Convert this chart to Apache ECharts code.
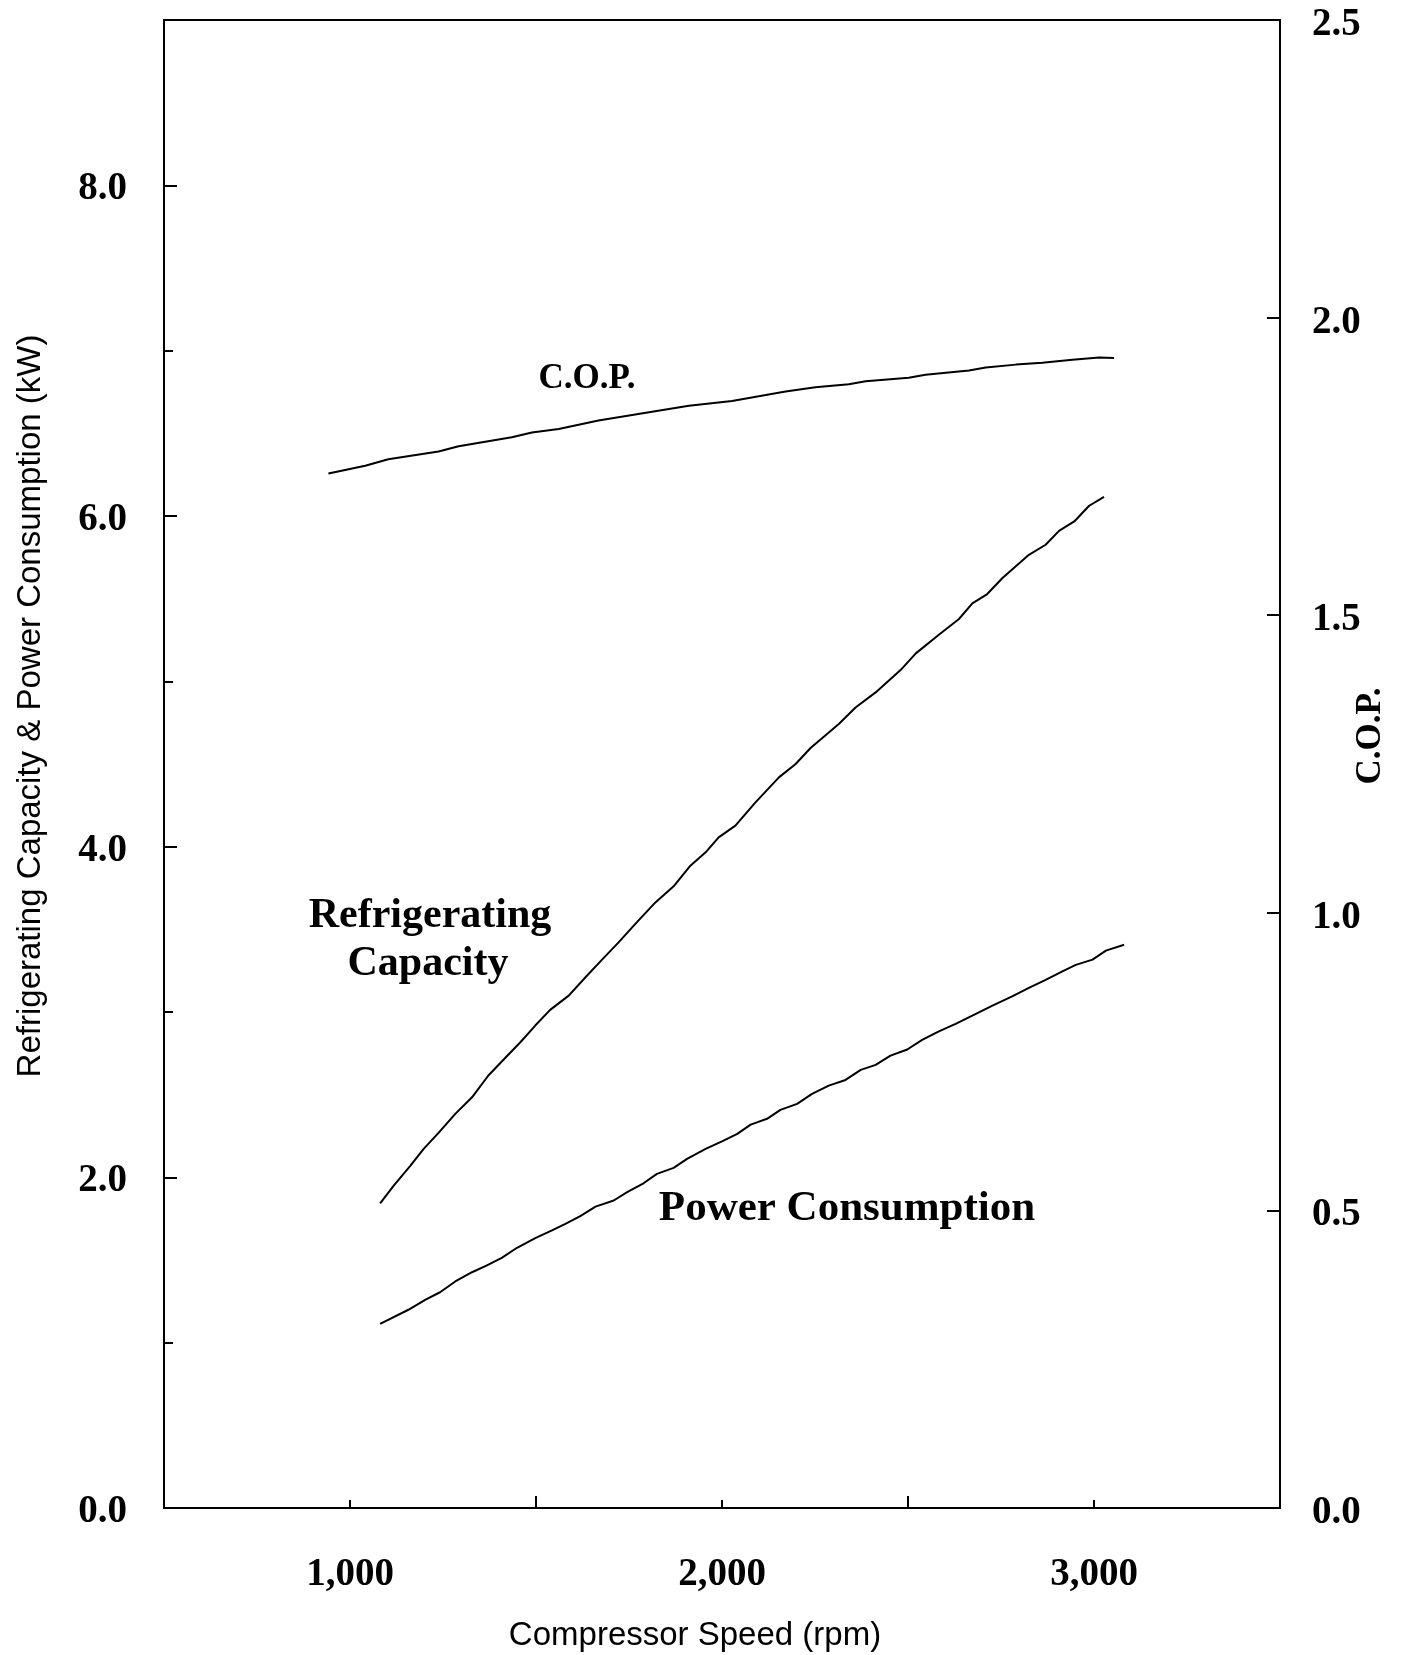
<!DOCTYPE html>
<html><head><meta charset="utf-8">
<script src="https://cdn.jsdelivr.net/npm/echarts@6/dist/echarts.min.js"></script>
<style>html,body{margin:0;padding:0;background:#fff;overflow:hidden}#c{width:1401px;height:1655px}</style>
</head><body><div id="c"></div><script>
// Compressor speed (rpm) and values
const rpmCOP = [942, 1041, 1103, 1238, 1292, 1435, 1489, 1561, 1668, 1812, 1911, 2027, 2171, 2251, 2341, 2386, 2502, 2547, 2664, 2709, 2790, 2861, 2942, 3014, 3054];
const cop = [1.738, 1.751, 1.762, 1.775, 1.784, 1.799, 1.807, 1.813, 1.827, 1.842, 1.852, 1.860, 1.876, 1.883, 1.888, 1.893, 1.899, 1.904, 1.911, 1.916, 1.921, 1.924, 1.929, 1.933, 1.932];

const rpmCap = [1081,1117,1162,1198,1238,1283,1328,1372,1417,1458,1498,1538,1588,1633,1677,1722,1767,1821,1870,1915,1956,1991,2036,2090,2153,2198,2238,2314,2359,2413,2480,2521,2583,2637,2673,2713,2754,2825,2870,2906,2947,2987,3027];
const capacity = [1.843,1.948,2.069,2.172,2.269,2.384,2.484,2.616,2.722,2.817,2.918,3.013,3.099,3.210,3.315,3.421,3.533,3.663,3.760,3.885,3.966,4.056,4.127,4.268,4.419,4.500,4.597,4.742,4.842,4.933,5.068,5.169,5.282,5.377,5.471,5.528,5.625,5.765,5.826,5.910,5.967,6.062,6.116];

const rpmPow = [1081,1157,1202,1242,1283,1328,1368,1408,1449,1498,1543,1579,1619,1660,1709,1745,1789,1825,1870,1906,1956,2000,2041,2077,2121,2157,2202,2242,2287,2332,2373,2413,2453,2498,2538,2583,2628,2673,2727,2780,2825,2870,2915,2951,2996,3032,3081];
const power = [1.114,1.199,1.259,1.305,1.370,1.426,1.467,1.513,1.574,1.632,1.679,1.719,1.765,1.823,1.860,1.910,1.964,2.021,2.057,2.112,2.172,2.218,2.263,2.319,2.354,2.408,2.444,2.505,2.555,2.589,2.650,2.680,2.736,2.773,2.831,2.883,2.928,2.978,3.039,3.095,3.146,3.194,3.246,3.285,3.317,3.371,3.407];

const xLabels = [1000, 2000, 3000];
const leftLabels = [0, 2, 4, 6, 8];
const rightLabels = [0, 0.5, 1.0, 1.5, 2.0, 2.5];

const xName = 'Compressor Speed (rpm)';
const leftName = 'Refrigerating Capacity & Power Consumption (kW)';
const rightName = 'C.O.P.';
const curveLabels = ['C.O.P.', 'Refrigerating', 'Capacity', 'Power Consumption'];

const zip = (a, b) => a.map((v, i) => [v, b[i]]);
const serif = '"Liberation Serif", "Times New Roman", serif';
const sans = '"Liberation Sans", Arial, sans-serif';
const tickFont = { fontFamily: serif, fontWeight: 'bold', fontSize: 39, color: '#000' };

const chart = echarts.init(document.getElementById('c'), null, { renderer: 'canvas', width: 1401, height: 1655 });
chart.setOption({
  animation: false,
  backgroundColor: '#fff',
  grid: { left: 164, right: 121, top: 20, bottom: 147, containLabel: false, outerBoundsMode: 'none', show: true, borderColor: '#000', borderWidth: 2, backgroundColor: 'transparent' },
  xAxis: [
    {
      type: 'value', min: 500, max: 3500, interval: 500, position: 'bottom',
      axisLine: { show: true, onZero: false, lineStyle: { color: '#000', width: 2 } },
      axisTick: { show: true, inside: true, length: 8, lineStyle: { color: '#000', width: 2 } },
      splitLine: { show: false },
      axisLabel: Object.assign({ margin: 47, formatter: v => xLabels.includes(v) ? v.toLocaleString('en-US') : '' }, tickFont),
      name: xName, nameLocation: 'middle', nameGap: 111, nameMoveOverlap: false,
      nameTextStyle: { fontFamily: sans, fontSize: 33, color: '#000', padding: [0, 54, 0, 0] }
    },
    {
      type: 'value', min: 500, max: 3500, interval: 1000, position: 'bottom',
      axisLine: { show: false },
      axisTick: { show: true, inside: true, length: 12, lineStyle: { color: '#000', width: 2 } },
      axisLabel: { show: false }, splitLine: { show: false }
    }
  ],
  yAxis: [
    {
      type: 'value', min: 0, max: 9, interval: 1, position: 'left',
      axisLine: { show: true, onZero: false, lineStyle: { color: '#000', width: 2 } },
      axisTick: { show: true, inside: true, length: 9, lineStyle: { color: '#000', width: 2 } },
      splitLine: { show: false },
      axisLabel: Object.assign({ margin: 37, verticalAlign: 'top', lineHeight: 8, formatter: v => leftLabels.includes(v) ? v.toFixed(1) : '' }, tickFont),
      name: leftName, nameLocation: 'middle', nameGap: 117, nameRotate: 90, nameMoveOverlap: false,
      nameTextStyle: { fontFamily: sans, fontSize: 33, color: '#000', padding: [0, 0, 0, 116] }
    },
    {
      type: 'value', min: 0, max: 2.5, interval: 0.5, position: 'right',
      axisLine: { show: true, onZero: false, lineStyle: { color: '#000', width: 2 } },
      axisTick: { show: true, inside: true, length: 13, lineStyle: { color: '#000', width: 2 } },
      splitLine: { show: false },
      axisLabel: Object.assign({ margin: 32, verticalAlign: 'top', lineHeight: 10, formatter: v => rightLabels.includes(v) ? v.toFixed(1) : '' }, tickFont),
      name: rightName, nameLocation: 'middle', nameGap: 73, nameRotate: 90, nameMoveOverlap: false,
      nameTextStyle: { fontFamily: serif, fontWeight: 'bold', fontSize: 35, color: '#000', padding: [0, 0, 0, 56] }
    },
    {
      type: 'value', min: 0, max: 9, interval: 2, position: 'left',
      axisLine: { show: false },
      axisTick: { show: true, inside: true, length: 13, lineStyle: { color: '#000', width: 2 } },
      axisLabel: { show: false }, splitLine: { show: false }
    }
  ],
  series: [
    { name: 'C.O.P.', type: 'line', yAxisIndex: 1, showSymbol: false, symbol: 'none', lineStyle: { color: '#000', width: 2 }, data: zip(rpmCOP, cop) },
    { name: 'Refrigerating Capacity', type: 'line', yAxisIndex: 0, showSymbol: false, symbol: 'none', lineStyle: { color: '#000', width: 2 }, data: zip(rpmCap, capacity) },
    { name: 'Power Consumption', type: 'line', yAxisIndex: 0, showSymbol: false, symbol: 'none', lineStyle: { color: '#000', width: 2 }, data: zip(rpmPow, power) }
  ],
  graphic: [
    { type: 'text', x: 587, y: 379, style: { text: curveLabels[0], font: 'bold 35px ' + serif, fill: '#000', align: 'center', verticalAlign: 'middle' } },
    { type: 'text', x: 430, y: 916, style: { text: curveLabels[1], font: 'bold 42px ' + serif, fill: '#000', align: 'center', verticalAlign: 'middle' } },
    { type: 'text', x: 428, y: 964, style: { text: curveLabels[2], font: 'bold 42px ' + serif, fill: '#000', align: 'center', verticalAlign: 'middle' } },
    { type: 'text', x: 847, y: 1209, style: { text: curveLabels[3], font: 'bold 43px ' + serif, fill: '#000', align: 'center', verticalAlign: 'middle' } }
  ]
});
</script></body></html>
